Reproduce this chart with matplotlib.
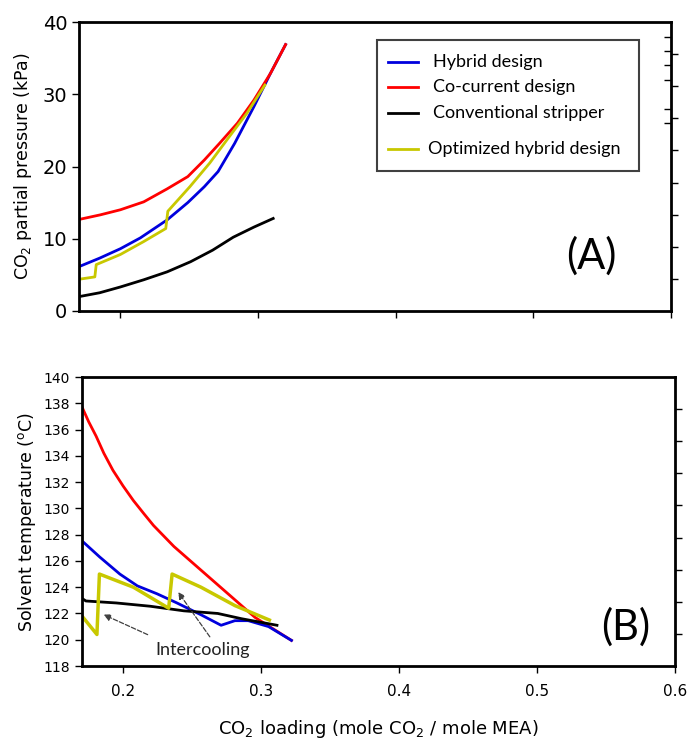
import numpy as np
import matplotlib
matplotlib.use("Agg")
import matplotlib.pyplot as plt
from matplotlib.patches import Rectangle

# ---- panel A: CO2 partial pressure (kPa) vs CO2 loading ----
hyb_x_a = [0.171, 0.185, 0.200, 0.2145, 0.234, 0.249, 0.261, 0.271, 0.283, 0.297, 0.309, 0.320]
hyb_y_a = [6.2, 7.3, 8.6, 10.1, 12.6, 15.0, 17.2, 19.3, 23.2, 28.3, 32.9, 36.9]

cocur_x_a = [0.171, 0.1855, 0.200, 0.217, 0.234, 0.249, 0.261, 0.272, 0.285, 0.297, 0.309, 0.320]
cocur_y_a = [12.7, 13.3, 14.0, 15.1, 16.9, 18.6, 20.9, 23.2, 26.0, 29.2, 32.9, 36.9]

conv_x_a = [0.171, 0.185, 0.200, 0.217, 0.234, 0.251, 0.267, 0.282, 0.297, 0.311]
conv_y_a = [2.0, 2.5, 3.3, 4.3, 5.4, 6.8, 8.4, 10.2, 11.6, 12.8]

opt_x_a = [0.171, 0.1815, 0.1825, 0.200, 0.217, 0.233, 0.2345, 0.2505, 0.265, 0.279, 0.292, 0.305]
opt_y_a = [4.4, 4.7, 6.4, 7.8, 9.6, 11.4, 13.8, 17.2, 20.5, 24.1, 27.4, 31.3]

# ---- panel B: solvent temperature (C) vs CO2 loading ----
cocur_x_b = [0.1694, 0.175, 0.1804, 0.186, 0.1926, 0.2, 0.2074, 0.215, 0.222, 0.2368, 0.2564, 0.276, 0.2956, 0.322]
cocur_y_b = [137.9, 136.6, 135.5, 134.2, 132.9, 131.7, 130.6, 129.6, 128.7, 127.1, 125.3, 123.5, 121.7, 119.95]

hyb_x_b = [0.1694, 0.183, 0.1976, 0.2103, 0.2245, 0.239, 0.2564, 0.271, 0.281, 0.2907, 0.3054, 0.322]
hyb_y_b = [127.6, 126.3, 125.0, 124.1, 123.5, 122.8, 121.9, 121.1, 121.45, 121.45, 121.0, 119.95]

opt_x_b = [0.1694, 0.181, 0.1828, 0.2074, 0.233, 0.2355, 0.2564, 0.281, 0.306]
opt_y_b = [121.9, 120.4, 125.0, 124.0, 122.4, 125.0, 124.0, 122.6, 121.5]

conv_x_b = [0.1694, 0.173, 0.195, 0.2196, 0.244, 0.2686, 0.2858, 0.3115]
conv_y_b = [123.2, 122.95, 122.8, 122.55, 122.2, 122.0, 121.6, 121.1]

labels = ["Hybrid design", "Co-current design", "Conventional stripper", "Optimized hybrid design"]
colors = ["#0000dd", "#ff0000", "#000000", "#c8c800"]

x_ticks = [0.2, 0.3, 0.4, 0.5, 0.6]

fig = plt.figure(figsize=(6.87, 7.40), dpi=100)
ax1 = fig.add_axes([0.115, 0.580, 0.862, 0.390])
ax2 = fig.add_axes([0.119, 0.100, 0.8635, 0.3905])

lw = 2.0
ax1.plot(hyb_x_a, hyb_y_a, color=colors[0], lw=lw)
ax1.plot(cocur_x_a, cocur_y_a, color=colors[1], lw=lw)
ax1.plot(conv_x_a, conv_y_a, color=colors[2], lw=lw)
ax1.plot(opt_x_a, opt_y_a, color=colors[3], lw=lw)

ax2.plot(cocur_x_b, cocur_y_b, color=colors[1], lw=lw)
ax2.plot(hyb_x_b, hyb_y_b, color=colors[0], lw=lw)
ax2.plot(conv_x_b, conv_y_b, color=colors[2], lw=lw)
ax2.plot(opt_x_b, opt_y_b, color=colors[3], lw=lw + 0.5)

for ax in (ax1, ax2):
    ax.set_xlim(0.17, 0.6)
    ax.set_xticks(x_ticks)
    for s in ax.spines.values():
        s.set_linewidth(2.0)
    ax.tick_params(axis="both", direction="out", width=1.0, length=5, right=False, top=False)

ax1.set_ylim(0, 40)
ax1.set_yticks([0, 10, 20, 30, 40])
ax1.tick_params(axis="x", labelbottom=False)
ax1.tick_params(axis="y", labelsize=14)
ax1.set_ylabel("CO$_2$ partial pressure (kPa)", fontsize=12.5, labelpad=6)

ax2.set_ylim(118, 140)
ax2.set_yticks(np.arange(118, 141, 2))
ax2.tick_params(axis="y", labelsize=10)
ax2.tick_params(axis="x", labelsize=11, pad=8)
ax2.set_ylabel("Solvent temperature ($^{\\rm o}$C)", fontsize=12.5, labelpad=4)
ax2.set_xlabel("CO$_2$ loading (mole CO$_2$ / mole MEA)", fontsize=13, labelpad=14)

# odd right-hand tick marks of the original figure
for ax in (ax1, ax2):
    tw = ax.twinx()
    tw.set_ylim(0, 9)
    tw.set_yticks(range(1, 9))
    tw.set_yticklabels([])
    tw.tick_params(axis="y", direction="out", length=5, width=1.0)
    for s in tw.spines.values():
        s.set_visible(False)
tw1 = ax1.twinx()
tw1.set_ylim(0, 40)
tw1.set_yticks([26, 28, 32, 34, 36, 38])
tw1.set_yticklabels([])
tw1.tick_params(axis="y", direction="in", length=5, width=1.0)
for s in tw1.spines.values():
    s.set_visible(False)

# legend box drawn by hand (last entry sits a bit lower in the original)
box = Rectangle((0.503, 0.484), 0.443, 0.454, transform=ax1.transAxes, fill=True,
                facecolor="white", edgecolor="#404040", lw=1.5, zorder=5)
ax1.add_patch(box)
leg_y = [0.862, 0.775, 0.685, 0.561]
leg_tx = [0.598, 0.598, 0.598, 0.590]
for c, lab, yy, tx in zip(colors, labels, leg_y, leg_tx):
    ax1.plot([0.522, 0.573], [yy, yy], color=c, lw=2, transform=ax1.transAxes, zorder=6)
    ax1.text(tx, yy, lab, transform=ax1.transAxes, fontsize=13, family="Lato",
             ha="left", va="center", zorder=6)

ax1.text(0.865, 0.19, "(A)", transform=ax1.transAxes, fontsize=30, family="Lato",
         ha="center", va="center")
ax2.text(0.917, 0.135, "(B)", transform=ax2.transAxes, fontsize=30, family="Lato",
         ha="center", va="center")

# intercooling annotation
ax2.annotate("", xy=(0.184, 122.0), xytext=(0.2196, 120.3),
             arrowprops=dict(arrowstyle="-|>", color="#404040", ls="--", lw=0.9))
ax2.annotate("", xy=(0.2387, 123.8), xytext=(0.264, 120.05),
             arrowprops=dict(arrowstyle="-|>", color="#404040", ls="--", lw=0.9))
ax2.text(0.2576, 119.25, "Intercooling", fontsize=13, family="Lato", ha="center", va="center",
         color="#222222")

fig.savefig("out.png", dpi=100)
